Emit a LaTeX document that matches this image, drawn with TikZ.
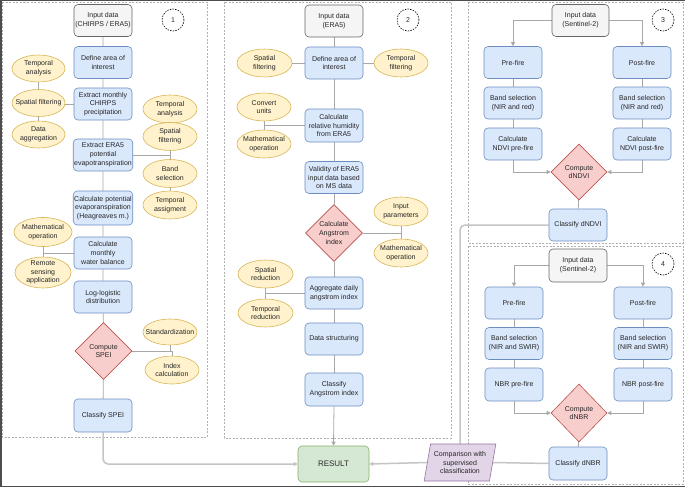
\documentclass[tikz,border=0pt]{standalone}
\usepackage{fontspec}
\setmainfont{Liberation Sans}
\usetikzlibrary{shapes.geometric,arrows.meta,backgrounds}
\definecolor{bluef}{HTML}{DAE8FC}
\definecolor{bluel}{HTML}{6C8EBF}
\definecolor{grayf}{HTML}{F5F5F5}
\definecolor{grayl}{HTML}{666666}
\definecolor{yelf}{HTML}{FFF2CC}
\definecolor{yell}{HTML}{D6B656}
\definecolor{redf}{HTML}{F8CECC}
\definecolor{redl}{HTML}{B85450}
\definecolor{greenf}{HTML}{D5E8D4}
\definecolor{greenl}{HTML}{82B366}
\definecolor{purf}{HTML}{E1D5E7}
\definecolor{purl}{HTML}{9673A6}
\definecolor{conn}{HTML}{A8A8A8}
\definecolor{connb}{HTML}{C4C4C4}
\definecolor{panelc}{HTML}{B0B0B0}
\definecolor{framec}{HTML}{4D4D4D}
\tikzset{
  proc/.style={draw=bluel, fill=bluef, rounded corners=4pt, minimum width=58pt,
    minimum height=32pt, align=center, inner sep=1pt, line width=0.6pt},
  inpbox/.style={proc, draw=grayl, fill=grayf},
  ell/.style={ellipse, draw=yell, fill=yelf, minimum width=54pt, minimum height=28pt,
    inner sep=0pt, line width=0.6pt, label={[align=center]center:#1}},
  dia/.style={diamond, draw=redl, fill=redf, minimum width=57pt, minimum height=57pt,
    inner sep=0pt, line width=0.6pt, label={[align=center]center:#1}},
  res/.style={draw=greenl, fill=greenf, rounded corners=4pt, minimum width=71pt,
    minimum height=36pt, line width=0.6pt, font=\fontsize{8}{9.5}\selectfont},
  para/.style={trapezium, trapezium left angle=76, trapezium right angle=104,
    trapezium stretches=true, draw=purl, fill=purf, minimum width=72pt,
    minimum height=37pt, inner sep=0pt, align=center, line width=0.6pt},
  numc/.style={circle, draw=black, dash pattern=on 1.5pt off 1.2pt, minimum size=22pt,
    inner sep=0pt, line width=0.6pt},
  panel/.style={draw=panelc, dash pattern=on 2pt off 1.5pt, line width=0.6pt},
  cn/.style={draw=conn, line width=0.8pt},
  cnb/.style={draw=connb, line width=1.5pt},
  arr/.style={-{Triangle[length=4pt,width=4pt]}},
}
\begin{document}
\begin{tikzpicture}[x=1pt,y=-1pt,font=\fontsize{7}{8.7}\selectfont, text=black!85]
\useasboundingbox (0,0) rectangle (685,487);
% ---------- Panel 1 ----------
\node[inpbox] (inp1) at (103,20.5) {Input data\\(CHIRPS / ERA5)};
\node[numc] (c1) at (173,20) {1};
\node[proc] (p1a) at (103,62.5) {Define area of\\interest};
\node[proc] (p1b) at (103,104) {Extract monthly\\CHIRPS\\precipitation};
\node[proc] (p1c) at (103,155) {Extract ERA5\\potential\\evapotranspiration};
\node[proc, minimum height=34pt] (p1d) at (103,208) {Calculate potential\\evaporanspiration\\(Heagreaves m.)};
\node[proc] (p1e) at (103,253) {Calculate\\monthly\\water balance};
\node[proc] (p1f) at (103,297) {Log-logistic\\distribution};
\node[dia={Compute\\SPEI}] (d1) at (103.5,351) {};
\node[proc, minimum height=33pt] (p1g) at (103,415.5) {Classify SPEI};
\node[ell={Temporal\\analysis}, minimum width=53pt, minimum height=27pt] (e1a) at (38.5,68.5) {};
\node[ell={Spatial filtering}, minimum width=53pt, minimum height=27pt] (e1b) at (38.5,103) {};
\node[ell={Data\\aggregation}, minimum width=53pt, minimum height=27pt] (e1c) at (38.5,134.5) {};
\node[ell={Temporal\\analysis}] (e1d) at (170,109) {};
\node[ell={Spatial\\filtering}] (e1e) at (170,136.5) {};
\node[ell={Band\\selection}] (e1f) at (170,173.5) {};
\node[ell={Temporal\\assigment}] (e1g) at (170,205) {};
\node[ell={Mathematical\\operation}, minimum width=58pt, minimum height=29pt] (e1h) at (43,232) {};
\node[ell={Remote\\sensing\\application}, minimum width=56pt, minimum height=31pt] (e1i) at (43,272.5) {};
\node[ell={Standardization}, minimum height=26pt] (e1j) at (170,332) {};
\node[ell={Index\\calculation}] (e1k) at (172,370) {};
% ---------- Panel 2 ----------
\node[inpbox] (inp2) at (334,21) {Input data\\(ERA5)};
\node[numc] (c2) at (408,20) {2};
\node[proc] (p2a) at (334,63) {Define area of\\interest};
\node[proc, minimum height=33pt] (p2b) at (334,125.5) {Calculate\\relative humidity\\from ERA5};
\node[proc] (p2c) at (334,177.5) {Validity of ERA5\\input data based\\on MS data};
\node[dia={Calculate\\Angstrom\\index}] (d2) at (334,233) {};
\node[proc] (p2d) at (334,293) {Aggregate daily\\angstrom index};
\node[proc] (p2e) at (334,339) {Data structuring};
\node[proc, minimum height=33pt] (p2f) at (334,389.5) {Classify\\Angstrom index};
\node[ell={Spatial\\filtering}, minimum width=55pt] (e2a) at (264.5,63) {};
\node[ell={Temporal\\filtering}] (e2b) at (401,63) {};
\node[ell={Convert\\units}] (e2c) at (264,107) {};
\node[ell={Mathematical\\operation}] (e2d) at (264,144) {};
\node[ell={Input\\parameters}, minimum height=29pt] (e2e) at (401,211.5) {};
\node[ell={Mathematical\\operation}] (e2f) at (401,253) {};
\node[ell={Spatial\\reduction}, minimum width=55pt] (e2g) at (265.5,274) {};
\node[ell={Temporal\\reduction}, minimum width=55pt] (e2h) at (265.5,313) {};
\node[res] (res) at (333.5,464) {RESULT};
% ---------- Panel 3 ----------
\node[inpbox, minimum width=57pt] (inp3) at (580.5,20.5) {Input data\\(Sentinel-2)};
\node[numc] (c3) at (663,20) {3};
\node[proc] (p3a) at (513,62.5) {Pre-fire};
\node[proc] (p3b) at (642,62.5) {Post-fire};
\node[proc] (p3c) at (513,103) {Band selection\\(NIR and red)};
\node[proc] (p3d) at (642,103) {Band selection\\(NIR and red)};
\node[proc] (p3e) at (513,144) {Calculate\\NDVI pre-fire};
\node[proc] (p3f) at (642,144) {Calculate\\NDVI post-fire};
\node[dia={Compute\\dNDVI}, minimum width=56pt, minimum height=56pt] (d3) at (579,172) {};
\node[proc] (p3g) at (578,225) {Classify dNDVI};
% ---------- Panel 4 ----------
\node[inpbox, minimum height=33pt] (inp4) at (578,265.5) {Input data\\(Sentinel-2)};
\node[numc] (c4) at (663,264) {4};
\node[proc] (p4a) at (514,303) {Pre-fire};
\node[proc] (p4b) at (643,303) {Post-fire};
\node[proc] (p4c) at (514,343.5) {Band selection\\(NIR and SWIR)};
\node[proc] (p4d) at (643,343.5) {Band selection\\(NIR and SWIR)};
\node[proc, minimum height=33pt] (p4e) at (514,384.5) {NBR pre-fire};
\node[proc, minimum height=33pt] (p4f) at (643,384.5) {NBR post-fire};
\node[dia={Compute\\dNBR}, minimum width=56pt, minimum height=58pt] (d4) at (579,413) {};
\node[proc, minimum height=33pt] (p4g) at (578,463.5) {Classify dNBR};
\node[para] (cmp) at (460,462.5) {Comparison with\\supervised\\classification};
% ---------- Background: panels and connectors ----------
\begin{scope}[on background layer]
  \draw[panel] (2,2) rectangle (207,437);
  \draw[panel] (224,2) rectangle (451,438);
  \draw[panel] (468,2) rectangle (683,243);
  \draw[panel] (468,246) rectangle (683,484);
  \draw[framec, line width=1.5pt] (685,0.75) -- (0.75,0.75) -- (0.75,486.25) -- (685,486.25);
  % panel 1
  \draw[cn] (inp1) -- (p1a) -- (p1b) -- (p1c) -- (p1d) -- (p1e) -- (p1f) -- (d1) -- (p1g);
  \draw[cn] (p1b.west) -| (e1a); \draw[cn] (p1b.west) -| (e1c);
  \draw[cn] (p1c.east) -| (e1d); \draw[cn] (p1c.east) -| (e1g);
  \draw[cn] (p1e.west) -| (e1h); \draw[cn] (p1e.west) -| (e1i);
  \draw[cn] (d1.east) -| (e1j); \draw[cn] (d1.east) -| (e1k);
  \draw[cnb, arr, rounded corners=5pt] (p1g.south) |- (res.west);
  % panel 2
  \draw[cn] (inp2) -- (p2a) -- (p2b) -- (p2c) -- (d2) -- (p2d) -- (p2e) -- (p2f);
  \draw[cn, arr] (p2f.south) -- (res.north);
  \draw[cn] (e2a) -- (p2a) -- (e2b);
  \draw[cn] (p2b.west) -| (e2c); \draw[cn] (p2b.west) -| (e2d);
  \draw[cn] (d2.east) -| (e2e); \draw[cn] (d2.east) -| (e2f);
  \draw[cn] (p2d.west) -| (e2g); \draw[cn] (p2d.west) -| (e2h);
  % panel 3
  \draw[cn, arr] (inp3.west) -| (p3a.north);
  \draw[cn, arr] (inp3.east) -| (p3b.north);
  \draw[cn] (p3a) -- (p3c) -- (p3e);
  \draw[cn] (p3b) -- (p3d) -- (p3f);
  \draw[cn, arr] (p3e.south) |- (d3.west);
  \draw[cn, arr] (p3f.south) |- (d3.east);
  \draw[cn] (d3) -- (p3g);
  \draw[cnb, rounded corners=5pt] (p3g.west) -| (cmp.north);
  % panel 4
  \draw[cn, arr] (inp4.west) -| (p4a.north);
  \draw[cn, arr] (inp4.east) -| (p4b.north);
  \draw[cn] (p4a) -- (p4c) -- (p4e);
  \draw[cn] (p4b) -- (p4d) -- (p4f);
  \draw[cn, arr] (p4e.south) |- (d4.west);
  \draw[cn, arr] (p4f.south) |- (d4.east);
  \draw[cn] (d4) -- (p4g);
  \draw[cnb] (p4g.west) -- (cmp.east);
  \draw[cnb, arr] (cmp.west) -- (res.east);
\end{scope}
\end{tikzpicture}
\end{document}
